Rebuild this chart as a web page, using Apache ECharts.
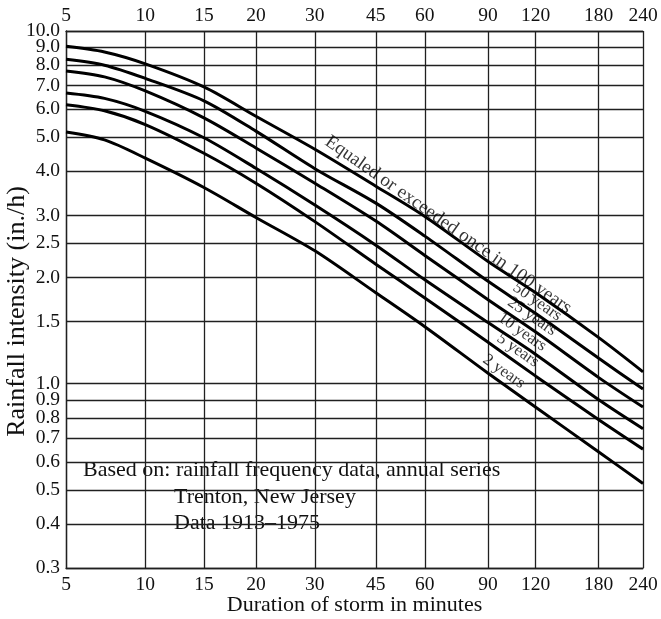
<!DOCTYPE html>
<html>
<head>
<meta charset="utf-8">
<script src="https://cdn.jsdelivr.net/npm/echarts@6/dist/echarts.min.js"></script>
<style>
  html, body { margin: 0; padding: 0; background: #fff; }
  #chart { width: 661px; height: 619px; }
</style>
</head>
<body>
<div id="chart"></div>
<script>
// Storm durations (minutes) at which each curve is sampled
const durations = [5, 7, 10, 15, 20, 30, 45, 60, 90, 120, 180, 240];

// Rainfall intensity (in./h) for each return period
const intensity100yr = [9.05, 8.72, 8.07, 6.94, 5.73, 4.62, 3.63, 2.98, 2.22, 1.81, 1.35, 1.08];
const intensity50yr  = [8.31, 8.00, 7.34, 6.34, 5.20, 4.07, 3.25, 2.62, 1.95, 1.58, 1.18, 0.965];
const intensity25yr  = [7.70, 7.41, 6.76, 5.67, 4.66, 3.70, 2.89, 2.31, 1.73, 1.40, 1.04, 0.858];
const intensity10yr  = [6.67, 6.44, 5.92, 4.98, 4.08, 3.21, 2.47, 1.97, 1.49, 1.21, 0.90, 0.745];
const intensity5yr   = [6.18, 5.94, 5.43, 4.50, 3.70, 2.88, 2.18, 1.75, 1.31, 1.05, 0.79, 0.652];
const intensity2yr   = [5.17, 4.91, 4.36, 3.60, 2.96, 2.38, 1.81, 1.45, 1.07, 0.857, 0.64, 0.521];

const curveLabels = [
  'Equaled or exceeded once in 100 years',
  '50 years', '25 years', '10 years', '5 years', '2 years'
];

// Tick labels
const durationTicks = [5, 10, 15, 20, 30, 45, 60, 90, 120, 180, 240];
const intensityTicks = [0.3, 0.4, 0.5, 0.6, 0.7, 0.8, 0.9, 1.0, 1.5, 2.0, 2.5, 3.0,
                        4.0, 5.0, 6.0, 7.0, 8.0, 9.0, 10.0];

// The duration scale of this chart paper is a stretched log scale:
// fraction of the axis length reached at each duration tick.
const durationScaleStops = [0, 0.1374, 0.2390, 0.3291, 0.4313, 0.5370,
                            0.6219, 0.7315, 0.8141, 0.9233, 1];

function durationToAxis(t) {
  const lt = Math.log(t);
  for (let i = 0; i < durationTicks.length - 1; i++) {
    const a = Math.log(durationTicks[i]), b = Math.log(durationTicks[i + 1]);
    if (lt <= b || i === durationTicks.length - 2) {
      const f = (lt - a) / (b - a);
      return durationScaleStops[i] + f * (durationScaleStops[i + 1] - durationScaleStops[i]);
    }
  }
  return 1;
}
function axisToDurationLabel(v) {
  let best = 0, bd = Infinity;
  durationScaleStops.forEach((p, i) => {
    const d = Math.abs(p - v);
    if (d < bd) { bd = d; best = i; }
  });
  return String(durationTicks[best]);
}

const FONT = '"Liberation Serif", "Times New Roman", serif';
const INK = '#111';
const gridLine = { color: '#202020', width: 1.3 };

const curves = [intensity100yr, intensity50yr, intensity25yr, intensity10yr, intensity5yr, intensity2yr];
const tickPositions = durationTicks.map(durationToAxis);
const yMin = intensityTicks[0], yMax = intensityTicks[intensityTicks.length - 1];
// keep the end ticks a hair inside the extent so none is dropped by rounding
const intensityTickValues = intensityTicks.map(v => Math.min(Math.max(v, yMin * 1.000001), yMax * 0.999999));
// 9.0 is crowded between 8.0 and 10.0, so its label lives on a twin axis
// (the library would otherwise drop one of the touching labels)
const crowdedIdx = intensityTicks.indexOf(9.0);
const mainLabelValues = intensityTickValues.filter((v, i) => i !== crowdedIdx);
const twinLabelValues = [intensityTickValues[crowdedIdx]];

const lineSeries = curves.map((vals, k) => ({
  name: curveLabels[k],
  type: 'line',
  data: durations.map((t, i) => [durationToAxis(t), vals[i]]),
  showSymbol: false,
  smooth: 0.3,
  lineStyle: { color: '#000', width: 3 },
  silent: true,
  z: 5
}));

// Labels ride on a point of their own curve, rotated to its slope
const labelPlacement = [
  { at: 60,  along: 24,    lift: 3,  size: 19 },
  { at: 120, along: -5.5,  lift: -2, size: 16.5 },
  { at: 120, along: -12,   lift: -2, size: 16.5 },
  { at: 120, along: -24,   lift: -2, size: 16.5 },
  { at: 90,  along: 29,    lift: -2, size: 16.5 },
  { at: 90,  along: 12,    lift: -2, size: 16.5 }
];
const labelSeries = {
  type: 'scatter',
  symbolSize: 0,
  silent: true,
  z: 6,
  data: labelPlacement.map((p, k) => {
    const i = durations.indexOf(p.at);
    return {
      value: [durationToAxis(p.at), curves[k][i]],
      label: {
        show: true,
        formatter: curveLabels[k],
        position: 'inside',
        align: 'center',
        verticalAlign: 'bottom',
        rotate: -35,
        offset: [p.along, p.lift],
        fontFamily: FONT,
        fontSize: p.size,
        color: '#000'
      }
    };
  })
};

const yLabelStyle = {
  formatter: v => Number(v).toFixed(1),
  showMinLabel: true, showMaxLabel: true, hideOverlap: false,
  fontFamily: FONT, fontSize: 19.5, color: INK, margin: 6
};

const chart = echarts.init(document.getElementById('chart'), null, { renderer: 'canvas' });
chart.setOption({
  backgroundColor: '#fff',
  animation: false,
  grid: { left: 66, right: 18, top: 31, bottom: 51, containLabel: false, outerBoundsMode: 'none' },
  xAxis: [
    {
      type: 'value', min: 0, max: 1, position: 'bottom',
      axisLine: { show: true, lineStyle: gridLine },
      axisTick: { show: false, customValues: tickPositions },
      axisLabel: {
        customValues: tickPositions, formatter: axisToDurationLabel,
        showMinLabel: true, showMaxLabel: true, hideOverlap: false,
        fontFamily: FONT, fontSize: 19.5, color: INK, margin: 7
      },
      splitLine: { show: true, lineStyle: gridLine },
      name: 'Duration of storm in minutes',
      nameLocation: 'middle', nameGap: 26, nameMoveOverlap: false,
      nameTextStyle: { fontFamily: FONT, fontSize: 22, color: INK }
    },
    {
      type: 'value', min: 0, max: 1, position: 'top',
      axisLine: { show: true, lineStyle: gridLine },
      axisTick: { show: false, customValues: tickPositions },
      axisLabel: {
        customValues: tickPositions, formatter: axisToDurationLabel,
        showMinLabel: true, showMaxLabel: true, hideOverlap: false,
        fontFamily: FONT, fontSize: 19.5, color: INK, margin: 5
      },
      splitLine: { show: false }
    }
  ],
  yAxis: [
    {
      type: 'log', logBase: 10, min: yMin, max: yMax, position: 'left',
      axisLine: { show: true, lineStyle: gridLine },
      axisTick: { show: false, customValues: intensityTickValues },
      axisLabel: Object.assign({ customValues: mainLabelValues }, yLabelStyle),
      splitLine: { show: true, lineStyle: gridLine },
      name: 'Rainfall intensity (in./h)',
      nameLocation: 'middle', nameGap: 36, nameMoveOverlap: false,
      nameTextStyle: { fontFamily: FONT, fontSize: 26, color: INK, padding: [0, 24, 0, 0] }
    },
    {
      type: 'log', logBase: 10, min: yMin, max: yMax, position: 'left', offset: 0,
      axisLine: { show: false },
      axisTick: { show: false, customValues: twinLabelValues },
      axisLabel: Object.assign({ customValues: twinLabelValues }, yLabelStyle),
      splitLine: { show: false }
    }
  ],
  graphic: [
    {
      type: 'group', left: 77, top: 457, z: 20,
      children: [
        { type: 'rect', shape: { x: 0, y: 0, width: 431, height: 74 }, style: { fill: '#fff' } },
        { type: 'text', x: 6, y: 13, style: { text: 'Based on: rainfall frequency data, annual series', font: '22px ' + FONT, fill: INK, verticalAlign: 'middle' } },
        { type: 'text', x: 97, y: 40, style: { text: 'Trenton, New Jersey', font: '22px ' + FONT, fill: INK, verticalAlign: 'middle' } },
        { type: 'text', x: 97, y: 66, style: { text: 'Data 1913–1975', font: '22px ' + FONT, fill: INK, verticalAlign: 'middle' } }
      ]
    }
  ],
  series: [...lineSeries, labelSeries]
});
</script>
</body>
</html>
